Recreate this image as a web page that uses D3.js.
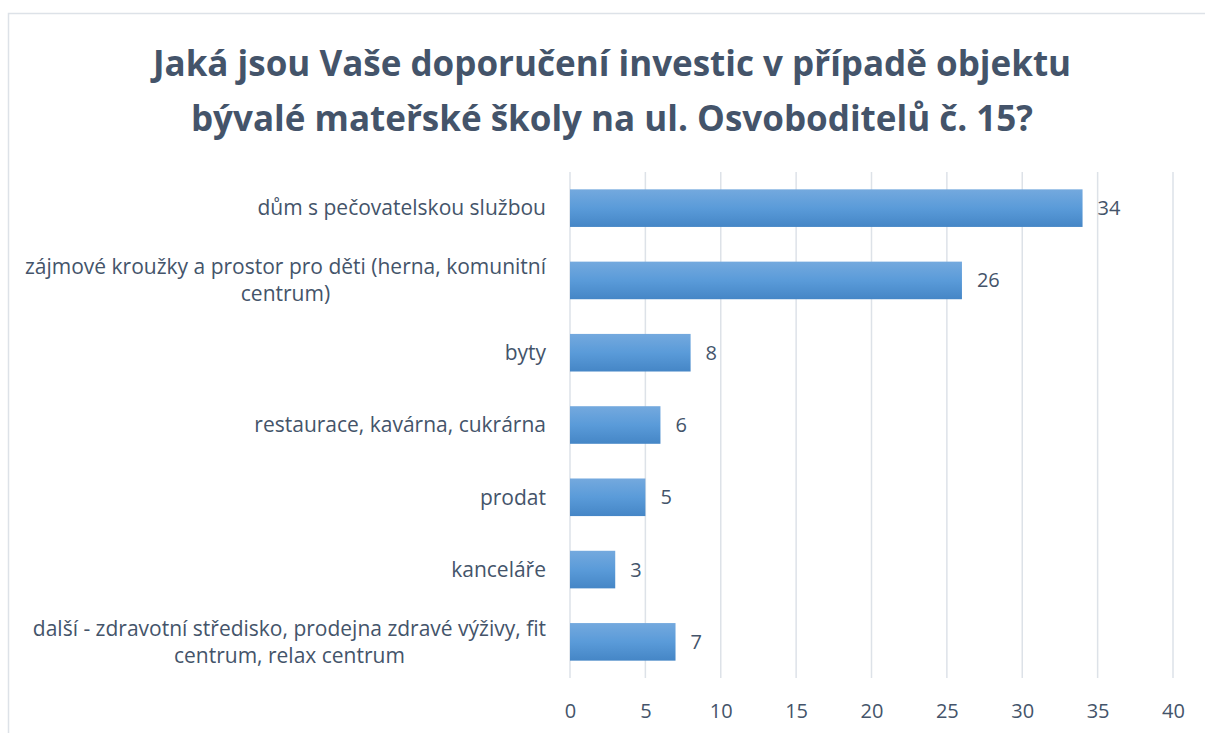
<!DOCTYPE html>
<meta charset="utf-8">
<script src="https://d3js.org/d3.v7.min.js"></script>
<style>
  body { margin: 0; background: #fff; }
  text { font-family: "Open Sans", sans-serif; }
</style>
<div id="chart"></div>
<script>

// data
var categories = [
  ["dům s pečovatelskou službou"],
  ["zájmové kroužky a prostor pro děti (herna, komunitní", "centrum)"],
  ["byty"],
  ["restaurace, kavárna, cukrárna"],
  ["prodat"],
  ["kanceláře"],
  ["další - zdravotní středisko, prodejna zdravé výživy, fit", "centrum, relax centrum"]
];
var values = [34, 26, 8, 6, 5, 3, 7];
var xTicks = [0, 5, 10, 15, 20, 25, 30, 35, 40];
var titleLines = ["Jaká jsou Vaše doporučení investic v případě objektu",
                  "bývalé mateřské školy na ul. Osvoboditelů č. 15?"];

var W = 1205, H = 733;
var margin = {top: 172, right: 32, bottom: 55, left: 570},
    width = W - margin.left - margin.right,
    height = H - margin.top - margin.bottom;

var textColor = "#44546a";

var root = d3.select("#chart")
  .append("svg")
    .attr("width", W)
    .attr("height", H);

// chart frame
root.append("rect")
  .attr("x", 8.5)
  .attr("y", 13.5)
  .attr("width", W + 20)
  .attr("height", H + 20)
  .attr("fill", "none")
  .attr("stroke", "#dde2e8")
  .attr("stroke-width", 1.5);

// bar gradient
var grad = root.append("defs").append("linearGradient")
  .attr("id", "barGrad")
  .attr("x1", 0).attr("y1", 0).attr("x2", 0).attr("y2", 1);
grad.append("stop").attr("offset", "0%").attr("stop-color", "#74a9de");
grad.append("stop").attr("offset", "50%").attr("stop-color", "#5a9bd9");
grad.append("stop").attr("offset", "100%").attr("stop-color", "#4586c6");

// title
root.selectAll(".title")
  .data(titleLines)
  .enter().append("text")
    .attr("class", "title")
    .attr("x", 612)
    .attr("y", function(d, i) { return 76 + i * 55; })
    .attr("text-anchor", "middle")
    .attr("font-size", "35px")
    .attr("font-weight", "bold")
    .attr("fill", textColor)
    .text(function(d) { return d; });

var svg = root.append("g")
  .attr("transform", "translate(" + margin.left + "," + margin.top + ")");

var x = d3.scaleLinear()
  .domain([0, 40])
  .range([0, 603]);

var y = d3.scaleBand()
  .domain(d3.range(categories.length))
  .range([0, height])
  .paddingInner(0.48)
  .paddingOuter(0.24);

// vertical gridlines
svg.append("g")
  .selectAll("line")
  .data(xTicks)
  .enter().append("line")
    .attr("x1", function(d) { return x(d); })
    .attr("x2", function(d) { return x(d); })
    .attr("y1", 0)
    .attr("y2", height)
    .attr("stroke", "#dde2e8")
    .attr("stroke-width", 1.5);

// x axis labels
var xAxis = svg.append("g")
  .attr("transform", "translate(0," + height + ")")
  .call(d3.axisBottom(x).tickValues(xTicks).tickSize(0).tickPadding(26).tickFormat(d3.format("d")));
xAxis.select(".domain").remove();
xAxis.selectAll("text")
  .attr("font-family", "Open Sans, sans-serif")
  .attr("font-size", "20px")
  .attr("fill", textColor);

// bars
svg.selectAll(".bar")
  .data(values)
  .enter().append("rect")
    .attr("class", "bar")
    .attr("x", x(0))
    .attr("y", function(d, i) { return y(i); })
    .attr("width", function(d) { return x(d) - x(0); })
    .attr("height", y.bandwidth())
    .attr("fill", "url(#barGrad)");

// value labels
svg.selectAll(".val")
  .data(values)
  .enter().append("text")
    .attr("class", "val")
    .attr("x", function(d) { return x(d) + 15; })
    .attr("y", function(d, i) { return y(i) + y.bandwidth() / 2; })
    .attr("dy", "0.35em")
    .attr("font-size", "20px")
    .attr("fill", textColor)
    .text(function(d) { return d; });

// category labels, wrapped lines centred under the longest line
var lineH = 27;
svg.selectAll(".cat")
  .data(categories)
  .enter().append("g")
    .attr("class", "cat")
    .each(function(lines, i) {
      var g = d3.select(this);
      var cy = y(i) + y.bandwidth() / 2 - (lines.length - 1) * lineH / 2;
      var texts = lines.map(function(l, k) {
        return g.append("text")
          .attr("y", cy + k * lineH)
          .attr("dy", "0.35em")
          .attr("font-size", "21px")
          .attr("fill", textColor)
          .attr("text-anchor", "middle")
          .text(l);
      });
      var maxW = d3.max(texts, function(t) { return t.node().getComputedTextLength(); });
      texts.forEach(function(t) { t.attr("x", -24 - maxW / 2); });
    });

</script>
